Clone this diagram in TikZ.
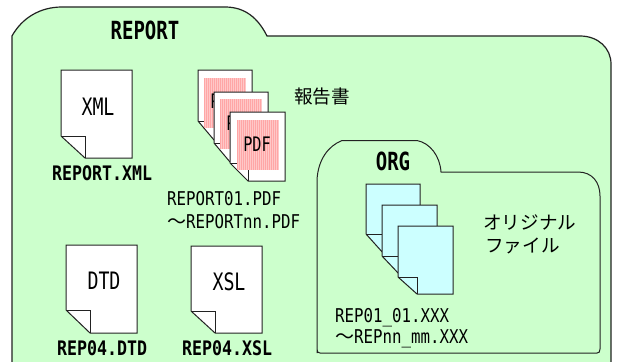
\documentclass[tikz,border=0pt]{standalone}
\usepackage{fontspec}
\setmainfont{DejaVu Sans Mono}[FakeStretch=0.83]
\newfontfamily\narrowf{DejaVu Sans Mono}[FakeStretch=0.76]
\newfontfamily\jpfont{Noto Sans CJK JP}
\definecolor{foldergreen}{HTML}{CCFFCC}
\definecolor{pagecyan}{HTML}{CCFFFF}
\definecolor{pinkA}{HTML}{FFA6A6}
\definecolor{pinkB}{HTML}{FFC8C8}
\definecolor{edge}{HTML}{222222}
\newcommand{\docpage}[7]{% x y w h foldx foldy fill
  \filldraw[draw=edge,fill=#7,line width=1pt,line join=miter]
    (#1,#2) -- ({#1+#3},#2) -- ({#1+#3},{#2+#4}) -- ({#1+#5},{#2+#4}) -- (#1,{#2+#6}) -- cycle;
  \draw[edge,line width=1pt] (#1,{#2+#6}) -- ({#1+#5},{#2+#6}) -- ({#1+#5},{#2+#4});
}
\newcommand{\pinkrect}[2]{%
  \fill[pinkB] (#1,#2) rectangle ({#1+42},{#2+50});
  \foreach \k in {0,2,...,40}{\fill[pinkA] ({#1+\k},#2) rectangle ({#1+\k+1},{#2+50});}
}
\tikzset{
  big/.style={font=\fontsize{24}{24}\selectfont\narrowf,inner sep=0pt},
  bigb/.style={font=\fontsize{25}{25}\selectfont\narrowf\bfseries,inner sep=0pt},
  mid/.style={font=\fontsize{20}{20}\selectfont\narrowf,inner sep=0pt},
  lab/.style={font=\fontsize{19}{19}\selectfont,inner sep=0pt,anchor=base west},
  labb/.style={font=\fontsize{20}{20}\selectfont\bfseries,inner sep=0pt,anchor=base west},
  jp/.style={font=\fontsize{18.6}{18.6}\selectfont\jpfont,inner sep=0pt,anchor=base west},
  folder/.style={draw=edge,fill=foldergreen,line width=1.2pt}
}
\begin{document}
\begin{tikzpicture}[x=1pt,y=-1pt]
\useasboundingbox (0,0) rectangle (617,361);
\fill[white] (0,0) rectangle (617,361);
% outer folder
\path[folder] (12,362) -- (12,36) .. controls (22,18) and (40,7) .. (62,7) -- (225,7)
  .. controls (245,7) and (258,18) .. (267,36) -- (580,36)
  .. controls (598,36) and (611,48) .. (611,64) -- (611,362);
\node[bigb] (report) at (145,30) {REPORT};
% XML
\docpage{61}{70}{71}{88}{24}{66}{white}
\node[big] (xml) at (98,107) {XML};
\node[labb] (xmlf) at (52,180) {REPORT.XML};
% PDF stack
\docpage{198}{70}{54}{70}{16}{51}{white}
\pinkrect{204}{78}
\node[mid] (pdfa) at (224,101) {PDF};
\docpage{214}{92}{54}{70}{16}{51}{white}
\pinkrect{220}{99}
\node[mid] (pdfb) at (240,123) {PDF};
\docpage{230}{112}{55}{69}{18}{51}{white}
\pinkrect{237}{120}
\node[mid] (pdfc) at (257,144) {PDF};
\node[jp] (houkoku) at (294,103) {報告書};
\node[lab] (pa) at (167,205) {REPORT01.PDF};
\node[lab] (pb) at (167,228) {{\jpfont ～}REPORTnn.PDF};
% DTD / XSL
\docpage{66}{245}{71}{88}{24}{65}{white}
\node[big] (dtd) at (104,281) {DTD};
\node[labb] (dtdf) at (57,355) {REP04.DTD};
\docpage{191}{246}{71}{87}{24}{65}{white}
\node[big] (xsl) at (229,282) {XSL};
\node[labb] (xslf) at (182,355) {REP04.XSL};
% ORG folder
\filldraw[folder,line width=1pt] (317,353) -- (317,180) .. controls (318,160) and (328,146) .. (342,140.5) -- (417,140.5)
  .. controls (430,143) and (440,156) .. (441,172) -- (578,172)
  .. controls (592,172) and (600,182) .. (600,196) -- (600,349)
  .. controls (600,352) and (599,353) .. (597,353) -- (320,353) .. controls (318,353) and (317,352) .. (317,349) -- cycle;
\node[bigb] (org) at (393,161) {ORG};
\docpage{366}{184}{54}{70}{18}{50}{pagecyan}
\docpage{382}{205}{55}{70}{18}{51}{pagecyan}
\docpage{398}{226}{55}{68}{19}{51}{pagecyan}
\node[jp] (oa) at (483,229) {オリジナル};
\node[jp] (ob) at (485,252) {ファイル};
\node[lab] (oc) at (335,322) {REP01\_01.XXX};
\node[lab] (od) at (335,343) {{\jpfont ～}REPnn\_mm.XXX};
\end{tikzpicture}
\end{document}
